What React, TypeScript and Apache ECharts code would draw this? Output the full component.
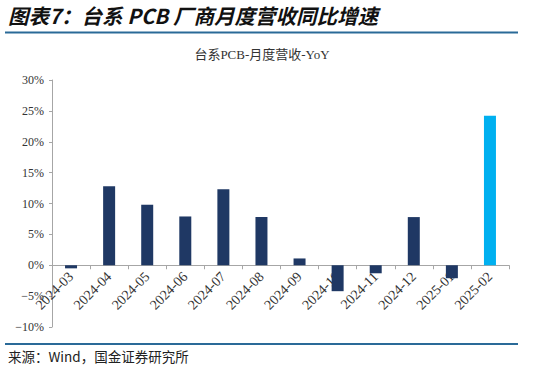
import React, { useEffect, useRef } from "react";
import * as echarts from "echarts";

const categories = [
  "2024-03", "2024-04", "2024-05", "2024-06", "2024-07", "2024-08",
  "2024-09", "2024-10", "2024-11", "2024-12", "2025-01", "2025-02",
];
const yoyValues = [-0.5, 12.8, 9.8, 7.9, 12.3, 7.8, 1.1, -4.2, -1.3, 7.8, -2.1, 24.2];
const highlightIndex = 11;
const yTicks = { min: -10, max: 30, interval: 5 };

const figureTitle = "图表7：台系 PCB 厂商月度营收同比增速";
const chartTitle = "台系PCB-月度营收-YoY";
const sourceText = "来源：Wind，国金证券研究所";

export default function App() {
  const ref = useRef<HTMLDivElement>(null);
  useEffect(() => {
    if (!ref.current) return;
    const chart = echarts.init(ref.current, null, { renderer: "svg" });
    const serif = "'Liberation Serif', 'Noto Sans CJK SC', serif";
    const gridTop = 80;
    const gridBottom = 47;
    const plotH = 374 - gridTop - gridBottom;
    const zeroOffset = plotH * (0 - yTicks.min) / (yTicks.max - yTicks.min);
    chart.setOption({
      animation: false,
      backgroundColor: "#ffffff",
      title: {
        text: chartTitle,
        left: 257,
        textAlign: "center",
        top: 43,
        textStyle: {
          fontFamily: serif,
          fontSize: 13,
          fontWeight: "normal",
          color: "#333333",
        },
      },
      grid: { left: 52, right: 32, top: gridTop, bottom: gridBottom, containLabel: false },
      xAxis: {
        type: "category",
        data: categories,
        offset: -zeroOffset,
        axisLine: { onZero: false, lineStyle: { color: "#a6a6a6", width: 1 } },
        axisTick: { show: true, length: 4, lineStyle: { color: "#a6a6a6" } },
        axisLabel: {
          rotate: 45,
          margin: 9,
          fontSize: 14,
          fontFamily: serif,
          color: "#333333",
          interval: 0,
        },
      },
      yAxis: {
        type: "value",
        min: yTicks.min,
        max: yTicks.max,
        interval: yTicks.interval,
        axisLine: { show: true, lineStyle: { color: "#a6a6a6" } },
        axisTick: { show: true, length: 3, lineStyle: { color: "#a6a6a6" } },
        splitLine: { show: false },
        axisLabel: {
          formatter: (v: number) => (v < 0 ? "\u2212" + Math.abs(v) : String(v)) + "%",
          fontSize: 12,
          fontFamily: serif,
          color: "#333333",
          margin: 8,
        },
      },
      series: [
        {
          type: "bar",
          data: yoyValues.map((v, i) => ({
            value: v,
            itemStyle: { color: i === highlightIndex ? "#00B0F0" : "#1F3864" },
          })),
          barWidth: 12,
        },
      ],
      graphic: [
        {
          type: "text",
          left: 8,
          top: 5,
          style: {
            text: figureTitle,
            fontSize: 20.5,
            fontWeight: "bold",
            fontStyle: "italic",
            fontFamily: "Noto Sans CJK SC",
            fill: "#111111",
          },
        },
        {
          type: "line",
          shape: { x1: 5, y1: 32.5, x2: 518, y2: 32.5 },
          style: { stroke: "#2A6A98", lineWidth: 2 },
        },
        {
          type: "line",
          shape: { x1: 5, y1: 344, x2: 518, y2: 344 },
          style: { stroke: "#2A6A98", lineWidth: 2 },
        },
        {
          type: "text",
          left: 8,
          top: 349,
          style: {
            text: sourceText,
            fontSize: 13.5,
            fontFamily: "Noto Sans CJK SC",
            fill: "#222222",
          },
        },
      ],
    });
    return () => chart.dispose();
  }, []);
  return <div ref={ref} style={{ width: 541, height: 374, position: "fixed", left: 0, top: 0 }} />;
}
